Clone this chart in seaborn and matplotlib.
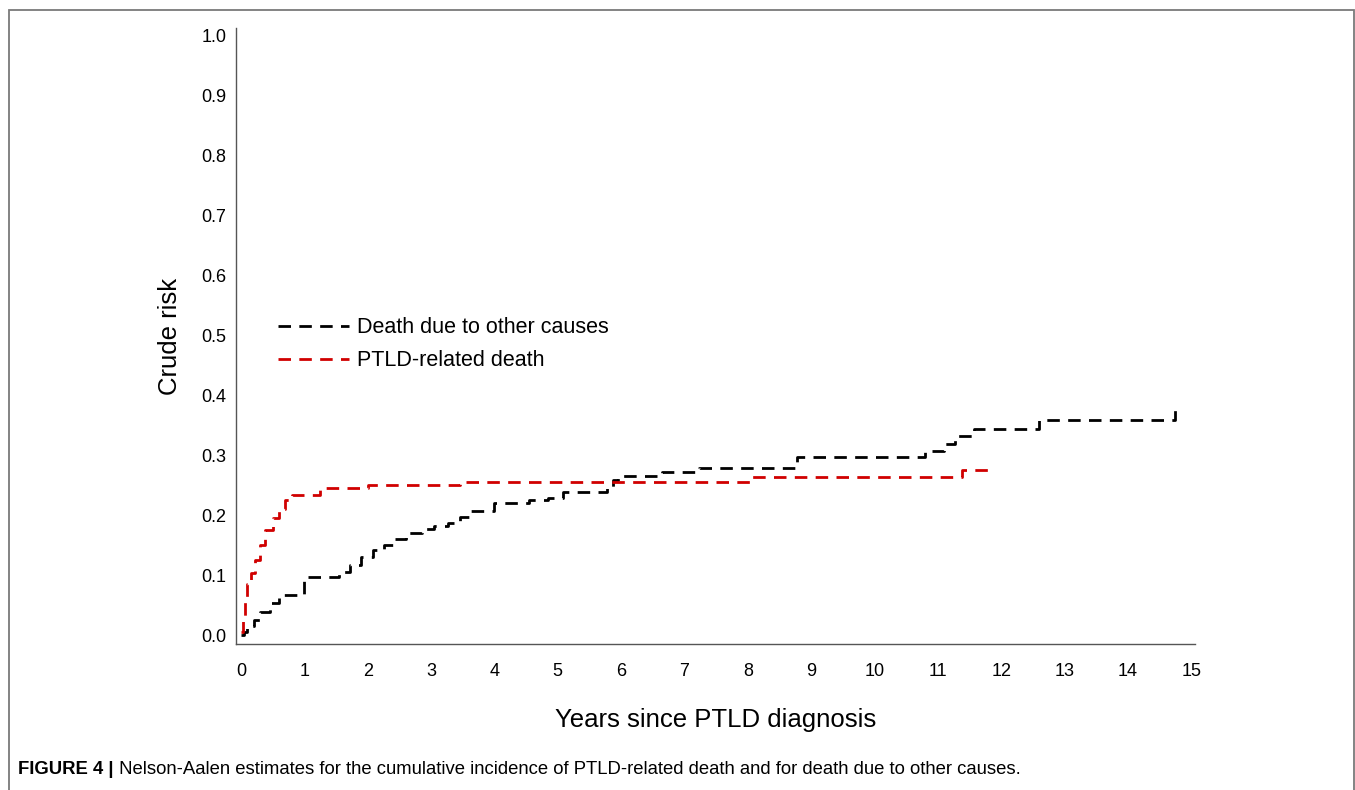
import matplotlib
matplotlib.use("Agg")
import matplotlib.pyplot as plt
import numpy as np
import pandas as pd
import seaborn as sns
from matplotlib.patches import Rectangle

# Nelson-Aalen step curves (years, crude risk)
other_years = [0.0, 0.05, 0.1, 0.2, 0.3, 0.45, 0.6, 1.0, 1.55, 1.72, 1.9, 2.08,
               2.25, 2.42, 2.6, 2.85, 3.05, 3.27, 3.45, 3.62, 4.0, 4.55, 4.85,
               5.08, 5.78, 5.88, 5.95, 6.65, 7.23, 8.78, 10.8, 11.1, 11.27,
               11.57, 12.6, 14.75]
other_risk = [0.0, 0.005, 0.015, 0.025, 0.038, 0.053, 0.066, 0.097, 0.105,
              0.117, 0.13, 0.142, 0.15, 0.16, 0.17, 0.177, 0.181, 0.186, 0.196,
              0.207, 0.22, 0.225, 0.228, 0.239, 0.247, 0.258, 0.265, 0.272,
              0.279, 0.297, 0.307, 0.319, 0.331, 0.344, 0.359, 0.376]

ptld_years = [0.0, 0.03, 0.06, 0.1, 0.15, 0.22, 0.3, 0.38, 0.5, 0.6, 0.7, 0.8,
              1.25, 2.0, 3.46, 8.06, 11.38, 11.85]
ptld_risk = [0.005, 0.03, 0.06, 0.085, 0.103, 0.125, 0.15, 0.175, 0.195, 0.21,
             0.225, 0.234, 0.245, 0.25, 0.255, 0.263, 0.275, 0.275]

x_ticks = list(range(0, 16))
y_ticks = [0.0, 0.1, 0.2, 0.3, 0.4, 0.5, 0.6, 0.7, 0.8, 0.9, 1.0]

sns.set_style("white")
plt.rcParams['font.family'] = ['Liberation Sans', 'DejaVu Sans']
plt.rcParams['text.color'] = 'black'
plt.rcParams['axes.labelcolor'] = 'black'

fig = plt.figure(figsize=(13.55, 7.9), dpi=100)
ax = fig.add_axes([236 / 1355, 1 - 644 / 790, (1195 - 236) / 1355, (644 - 28) / 790])

other_df = pd.DataFrame({"years": other_years, "risk": other_risk})
ptld_df = pd.DataFrame({"years": ptld_years, "risk": ptld_risk})

sns.lineplot(data=other_df, x="years", y="risk", ax=ax, color="black",
             drawstyle="steps-post", estimator=None, sort=False, lw=2.0,
             dashes=False, label="Death due to other causes")
sns.lineplot(data=ptld_df, x="years", y="risk", ax=ax, color="#d00000",
             drawstyle="steps-post", estimator=None, sort=False, lw=2.0,
             dashes=False, label="PTLD-related death")
for line in ax.get_lines():
    line.set_dashes((4.5, 3.0))

ax.set_xlim(-0.079, 15.06)
ax.set_ylim(-0.015, 1.012)
ax.set_xticks(x_ticks)
ax.set_yticks(y_ticks)
ax.set_yticklabels([f"{v:.1f}" for v in y_ticks])
sns.despine(ax=ax)
for side in ["left", "bottom"]:
    ax.spines[side].set_color("#555555")
    ax.spines[side].set_linewidth(1.0)
ax.tick_params(axis="both", direction="out", colors="#555555", labelcolor="black",
               labelsize=13, width=1.0)
ax.tick_params(axis="x", length=7, pad=7)
ax.tick_params(axis="y", length=4, pad=3)

ax.set_xlabel("Years since PTLD diagnosis", fontsize=18.5, labelpad=20)
ax.set_ylabel("Crude risk", fontsize=18.5, labelpad=14)

leg = ax.legend(loc="upper left", bbox_to_anchor=(259 / 1355, 1 - 298 / 790),
                bbox_transform=fig.transFigure, frameon=False, fontsize=15.5,
                handlelength=3.3, labelspacing=0.55, handletextpad=0.35)

# grey frame round the whole figure
fig.patches.append(Rectangle((9 / 1355, -0.05), (1354 - 9) / 1355, 1.05 - 10 / 790,
                             transform=fig.transFigure, fill=False,
                             edgecolor="#7a7a7a", lw=1.3, figure=fig))

# caption
t1 = fig.text(18 / 1355, 1 - 769 / 790, "FIGURE 4 |", fontsize=13.3,
              fontweight="bold", va="center", ha="left")
ax.annotate(" Nelson-Aalen estimates for the cumulative incidence of PTLD-related "
            "death and for death due to other causes.",
            xy=(1, 0.5), xycoords=t1, va="center", ha="left", fontsize=13.3,
            annotation_clip=False)

fig.savefig("out.png", dpi=100)
